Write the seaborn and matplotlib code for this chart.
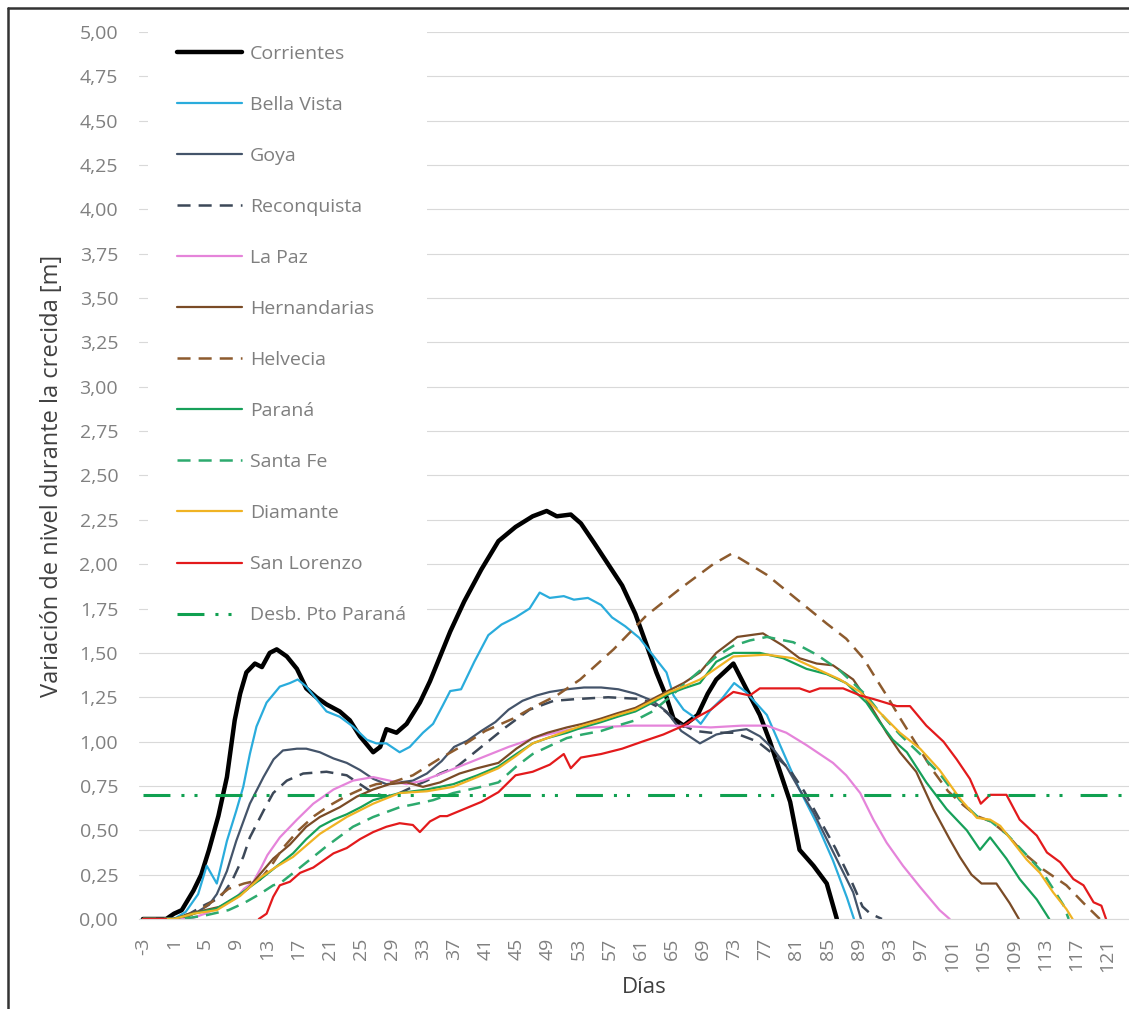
import matplotlib
matplotlib.use('Agg')
import matplotlib.pyplot as plt
import pandas as pd
import seaborn as sns
from matplotlib.patches import Rectangle
from matplotlib.lines import Line2D

# (día, variación de nivel [m])
corrientes = [(-3, 0), (0, 0), (1, 0.03), (2, 0.05), (3.5, 0.16), (4.5, 0.25), (5.5, 0.39), (6.7, 0.58),
              (7.8, 0.80), (8.8, 1.12), (9.5, 1.27), (10.3, 1.39), (11.4, 1.44), (12.3, 1.42), (13.3, 1.50),
              (14.2, 1.52), (15.5, 1.48), (16.8, 1.41), (18, 1.30), (19.3, 1.25), (20.6, 1.21), (22.3, 1.17),
              (23.6, 1.12), (24.9, 1.03), (26.6, 0.94), (27.5, 0.97), (28.3, 1.07), (29.6, 1.05), (30.9, 1.10),
              (32.6, 1.22), (33.9, 1.34), (35.2, 1.48), (36.5, 1.62), (38.3, 1.79), (40.5, 1.97), (42.7, 2.13),
              (44.9, 2.21), (47.1, 2.27), (48.9, 2.30), (50.2, 2.27), (52, 2.28), (53.3, 2.23), (55, 2.12),
              (56.8, 2.00), (58.6, 1.88), (60.3, 1.72), (61.7, 1.55), (63, 1.39), (64.3, 1.25), (65.2, 1.13),
              (66.5, 1.09), (68.3, 1.15), (69.6, 1.27), (70.7, 1.35), (72.9, 1.44), (75, 1.26), (76.3, 1.15),
              (77.6, 1.00), (78.9, 0.83), (80.2, 0.66), (81.4, 0.39), (83.2, 0.30), (84.9, 0.20), (86.2, 0.0)]

bella_vista = [(-3, 0), (1, 0), (2.5, 0.04), (4.1, 0.14), (5.2, 0.30), (6.5, 0.20), (7.8, 0.44), (9, 0.61),
               (9.9, 0.745), (10.75, 0.93), (11.6, 1.085), (12.9, 1.22), (14.6, 1.31), (15.9, 1.33), (16.9, 1.35),
               (18, 1.31), (19.3, 1.24), (20.6, 1.17), (22.3, 1.14), (24, 1.085), (25.8, 1.01), (27, 0.99),
               (28.3, 0.99), (30, 0.94), (31.3, 0.97), (33, 1.05), (34.3, 1.10), (35.5, 1.20), (36.5, 1.285),
               (37.9, 1.295), (39.6, 1.45), (41.4, 1.60), (43.1, 1.66), (44.9, 1.70), (46.7, 1.75), (48, 1.84),
               (49.3, 1.81), (51.1, 1.82), (52.4, 1.80), (54.2, 1.81), (55.9, 1.77), (57.3, 1.70), (59, 1.65),
               (60.8, 1.585), (62.5, 1.49), (64.3, 1.39), (65.2, 1.26), (66.5, 1.18), (67.8, 1.14), (68.7, 1.10),
               (70, 1.18), (71.4, 1.24), (73, 1.33), (74.5, 1.28), (77.2, 1.15), (79.3, 0.94), (81.4, 0.73),
               (83.6, 0.54), (85.7, 0.33), (87.5, 0.12), (88.4, 0.0)]

goya = [(-3, 0), (2, 0), (4, 0.04), (5.5, 0.08), (6.5, 0.14), (7.8, 0.27), (9, 0.44), (10.75, 0.65),
        (12.5, 0.80), (13.8, 0.90), (15, 0.95), (16.8, 0.96), (18, 0.96), (19.75, 0.94), (21.5, 0.905),
        (23.2, 0.88), (24.9, 0.84), (26.6, 0.79), (28.3, 0.76), (30, 0.77), (31.7, 0.78), (33.5, 0.82),
        (35.4, 0.89), (37, 0.97), (38.7, 1.005), (40.5, 1.06), (42.3, 1.11), (44, 1.18), (45.8, 1.23),
        (47.6, 1.26), (49.3, 1.28), (51.5, 1.295), (53.7, 1.305), (55.9, 1.305), (58.1, 1.295), (60.3, 1.27),
        (62.5, 1.23), (64.3, 1.17), (66.2, 1.06), (68.6, 0.99), (70.7, 1.04), (72.9, 1.06), (74.6, 1.07),
        (76.3, 1.03), (78, 0.96), (79.7, 0.86), (81.4, 0.73), (83.2, 0.60), (84.9, 0.45), (86.6, 0.30),
        (88.3, 0.15), (89.3, 0.0)]

reconquista = [(-3, 0), (1, 0), (3, 0.03), (5, 0.08), (6.9, 0.12), (8.4, 0.21), (9.9, 0.35), (10.75, 0.46),
               (12.5, 0.61), (13.75, 0.71), (15.5, 0.78), (17.6, 0.82), (20.6, 0.83), (23.2, 0.81), (24.9, 0.76),
               (26.6, 0.71), (28.3, 0.69), (30, 0.71), (31.7, 0.745), (33.5, 0.78), (35.2, 0.82), (37.4, 0.86),
               (40.5, 0.97), (43.6, 1.08), (46.7, 1.18), (49.8, 1.23), (52.8, 1.24), (56.8, 1.25), (61.2, 1.24),
               (63.9, 1.18), (66, 1.10), (68, 1.06), (70, 1.05), (73, 1.05), (76, 1.00), (78, 0.93), (80, 0.85),
               (82, 0.72), (84, 0.56), (86, 0.40), (88, 0.22), (89.5, 0.07), (90.5, 0.03), (92, 0.0)]

la_paz = [(-3, 0), (3, 0), (5, 0.03), (7, 0.07), (9, 0.12), (10, 0.17), (11.2, 0.21), (12.2, 0.29), (13, 0.36),
          (14.6, 0.46), (16.8, 0.56), (18.9, 0.65), (21.5, 0.73), (24, 0.78), (26.6, 0.80), (28.7, 0.78),
          (30.9, 0.76), (33, 0.78), (36, 0.83), (40, 0.90), (44, 0.97), (48, 1.03), (52, 1.07), (55, 1.08),
          (60, 1.09), (65, 1.09), (70, 1.08), (74, 1.09), (77.2, 1.09), (79.7, 1.05), (82.3, 0.98), (85.7, 0.88),
          (87.4, 0.81), (89.2, 0.71), (90.9, 0.56), (92.6, 0.43), (94.7, 0.30), (96.9, 0.18), (99.4, 0.05),
          (100.7, 0.0)]

hernandarias = [(-3, 0), (1, 0), (3, 0.03), (5, 0.05), (7, 0.07), (9, 0.12), (10.5, 0.17), (12, 0.25),
                (13.75, 0.34), (15.9, 0.42), (18, 0.52), (19.75, 0.575), (22.3, 0.63), (24.5, 0.69), (26.6, 0.73),
                (28.7, 0.76), (30.9, 0.77), (33, 0.745), (35.2, 0.77), (37.7, 0.82), (40, 0.85), (42.7, 0.88),
                (45, 0.96), (47.1, 1.02), (49, 1.05), (51.5, 1.08), (53.5, 1.10), (55.9, 1.13), (58, 1.16),
                (60.3, 1.19), (62.5, 1.24), (64.7, 1.29), (66.5, 1.33), (68.6, 1.39), (70.7, 1.50), (73.4, 1.59),
                (76.7, 1.61), (79.3, 1.54), (81.4, 1.47), (83.6, 1.44), (85.7, 1.43), (88.3, 1.35), (90, 1.24),
                (92.6, 1.05), (94.3, 0.94), (96.4, 0.83), (98.6, 0.62), (100.7, 0.45), (102, 0.35), (103.5, 0.25),
                (104.8, 0.20), (106.7, 0.20), (108.4, 0.09), (109.6, 0.0)]

helvecia = [(-3, 0), (2, 0), (4, 0.04), (6, 0.10), (8, 0.17), (10, 0.20), (12, 0.22), (13.5, 0.30), (15, 0.40),
            (17, 0.50), (19, 0.58), (21, 0.64), (23, 0.69), (25, 0.73), (27, 0.76), (29, 0.77), (31.7, 0.81),
            (35, 0.90), (38.2, 0.98), (41, 1.06), (44.6, 1.13), (47, 1.19), (50.2, 1.26), (53.2, 1.35),
            (57.5, 1.52), (61.7, 1.71), (66, 1.86), (70.3, 2.00), (72.7, 2.06), (77.2, 1.94), (81.4, 1.79),
            (84.9, 1.665), (87.4, 1.58), (89.6, 1.47), (91.3, 1.35), (92.6, 1.26), (94.5, 1.12), (96.5, 0.98),
            (98.5, 0.84), (100.5, 0.72), (102.5, 0.64), (104.2, 0.58), (106, 0.55), (108, 0.48), (110, 0.38),
            (112.7, 0.28), (115.7, 0.19), (117.9, 0.09), (120, 0.0)]

parana = [(-3, 0), (1, 0), (3.5, 0.03), (6.5, 0.06), (9.5, 0.14), (12, 0.22), (14, 0.29), (16.3, 0.37),
          (18, 0.45), (19.75, 0.52), (21.5, 0.56), (23.2, 0.59), (25, 0.63), (26.6, 0.67), (28.3, 0.69),
          (30, 0.71), (33.5, 0.73), (36.9, 0.76), (40, 0.81), (42.7, 0.86), (45, 0.93), (47.1, 0.99), (49, 1.02),
          (51.5, 1.05), (53.5, 1.08), (55.9, 1.11), (58, 1.14), (60.3, 1.17), (62.5, 1.22), (64.7, 1.27),
          (66.5, 1.30), (68.6, 1.33), (70.7, 1.45), (72.9, 1.50), (76.3, 1.50), (79.3, 1.47), (82.3, 1.41),
          (84.9, 1.38), (87.4, 1.33), (90, 1.22), (91.7, 1.11), (93.4, 1.01), (95.2, 0.94), (97.7, 0.77),
          (100.3, 0.62), (102.9, 0.50), (104.6, 0.39), (105.9, 0.46), (108, 0.34), (109.7, 0.225), (111.9, 0.11),
          (113.5, 0.0)]

santa_fe = [(-3, 0), (2, 0), (5, 0.02), (8, 0.05), (10, 0.09), (12, 0.14), (13.75, 0.19), (14.6, 0.20),
            (17.2, 0.29), (20.6, 0.41), (24, 0.52), (26.6, 0.575), (30, 0.63), (31.7, 0.645), (34.3, 0.67),
            (36.9, 0.71), (40, 0.74), (42.7, 0.77), (45, 0.86), (47.1, 0.93), (49.5, 0.98), (51.5, 1.02),
            (53.5, 1.04), (55.9, 1.06), (58, 1.09), (60.3, 1.12), (62.5, 1.17), (64.7, 1.25), (66.5, 1.32),
            (68.6, 1.40), (70.7, 1.48), (72.9, 1.54), (75, 1.57), (77.2, 1.59), (80.6, 1.56), (83.6, 1.49),
            (86.6, 1.40), (90, 1.26), (91.7, 1.165), (94.3, 1.04), (96.9, 0.93), (99.4, 0.82), (102, 0.67),
            (104.2, 0.58), (106, 0.55), (108, 0.48), (110.6, 0.36), (112.7, 0.26), (114, 0.17), (115.3, 0.08),
            (116, 0.0)]

diamante = [(-3, 0), (1, 0), (3.5, 0.03), (6.5, 0.05), (9.5, 0.13), (12, 0.23), (14, 0.29), (16.3, 0.35),
            (19.75, 0.48), (23.2, 0.575), (26.6, 0.65), (30, 0.71), (33.5, 0.72), (36.9, 0.745), (40, 0.80),
            (42.7, 0.85), (45, 0.92), (47.1, 0.99), (49, 1.02), (51.5, 1.06), (53.5, 1.09), (55.9, 1.12),
            (58, 1.15), (60.3, 1.18), (62.5, 1.23), (64.7, 1.28), (66.5, 1.31), (68.6, 1.35), (72.9, 1.48),
            (77.2, 1.49), (80.6, 1.47), (83.6, 1.41), (86.6, 1.35), (89.2, 1.28), (91.7, 1.165), (94.3, 1.05),
            (96.9, 0.96), (99.4, 0.84), (102, 0.68), (104.2, 0.57), (105.9, 0.56), (107.2, 0.525), (108.9, 0.43),
            (110.6, 0.335), (112.3, 0.26), (114, 0.15), (115.7, 0.056), (116.5, 0.0)]

san_lorenzo_inicio = [(-3, 0), (0, 0)]
san_lorenzo = [(11.9, 0), (12.9, 0.03), (13.75, 0.125), (14.6, 0.19), (15.9, 0.21), (17.2, 0.26), (18.9, 0.29),
               (20.2, 0.33), (21.5, 0.37), (23.2, 0.40), (24.9, 0.45), (26.6, 0.49), (28.3, 0.52), (30, 0.54),
               (31.7, 0.53), (32.6, 0.49), (33.9, 0.55), (35.2, 0.58), (36.1, 0.58), (38.3, 0.62), (40.5, 0.66),
               (42.7, 0.715), (44.9, 0.81), (47.1, 0.83), (49.3, 0.87), (51.1, 0.93), (52, 0.85), (53.3, 0.91),
               (55.9, 0.93), (58.6, 0.96), (61.2, 1.00), (63.9, 1.04), (66.5, 1.09), (68.3, 1.14), (70, 1.18),
               (71.8, 1.245), (72.9, 1.28), (75, 1.26), (76.3, 1.30), (81.4, 1.30), (82.7, 1.28), (84, 1.30),
               (87, 1.30), (89.2, 1.26), (90.9, 1.24), (93.9, 1.20), (95.6, 1.20), (97.7, 1.09), (99.9, 1.00),
               (101.6, 0.90), (103.3, 0.79), (104.7, 0.65), (105.9, 0.70), (108, 0.70), (109.7, 0.56),
               (111.9, 0.47), (113.2, 0.375), (114.9, 0.32), (116.6, 0.225), (117.9, 0.19), (119.2, 0.094),
               (120.2, 0.075), (120.8, 0.0)]

desborde = [(-3, 0.70), (123, 0.70)]

x_label_days = list(range(-3, 122, 4))
y_ticks = [i * 0.25 for i in range(21)]

dash = (0, (9.4, 5.8))
series = [
    ('Corrientes', corrientes, '#000000', 3.2, '-'),
    ('Bella Vista', bella_vista, '#2AACDC', 1.6, '-'),
    ('Goya', goya, '#44546A', 1.6, '-'),
    ('Reconquista', reconquista, '#3C4858', 1.8, dash),
    ('La Paz', la_paz, '#E584DA', 1.6, '-'),
    ('Hernandarias', hernandarias, '#7A4B26', 1.6, '-'),
    ('Helvecia', helvecia, '#8D5B2E', 1.8, dash),
    ('Paraná', parana, '#17A05A', 1.6, '-'),
    ('Santa Fe', santa_fe, '#2DAA6E', 1.8, dash),
    ('Diamante', diamante, '#F0B323', 1.6, '-'),
    ('San Lorenzo', san_lorenzo, '#E31A1C', 1.6, '-'),
    ('Desb. Pto Paraná', desborde, '#10A050', 2.2, (0, (19.4, 7.9, 2.2, 7.2, 2.2, 13))),
]

sns.set_style('white')
plt.rcParams['font.family'] = ['Open Sans', 'DejaVu Sans']
plt.rcParams['lines.scale_dashes'] = False

fig = plt.figure(figsize=(11.29, 10.09), dpi=100)
ax = fig.add_axes([0.12312, 0.08920, 0.87688, 0.87909])

for name, pts, color, lw, ls in series:
    df = pd.DataFrame(pts, columns=['dia', 'nivel'])
    if name == 'San Lorenzo':
        df0 = pd.DataFrame(san_lorenzo_inicio, columns=['dia', 'nivel'])
        sns.lineplot(data=df0, x='dia', y='nivel', color=color, lw=lw, ax=ax, estimator=None, sort=False)
    sns.lineplot(data=df, x='dia', y='nivel', color=color, lw=lw, linestyle=ls, label=name,
                 ax=ax, estimator=None, sort=False)

ax.set_xlim(-3.5, 123.75)
ax.set_ylim(0, 5)
ax.set_axisbelow(True)
ax.grid(axis='y', color='#D9D9D9', lw=0.8)
ax.grid(axis='x', visible=False)
for s in ['top', 'right', 'left']:
    ax.spines[s].set_visible(False)
ax.spines['bottom'].set_color('#D9D9D9')
ax.spines['bottom'].set_linewidth(0.8)

ax.set_yticks(y_ticks)
ax.set_yticklabels([f'{v:.2f}'.replace('.', ',') for v in y_ticks])
ax.tick_params(axis='y', length=0, pad=15, labelsize=14, labelcolor='#808080')

ax.set_xticks(x_label_days)
ax.set_xticklabels([str(d) for d in x_label_days], rotation=90)
ax.set_xticks([d - 0.5 for d in range(-3, 125)], minor=True)
ax.tick_params(axis='x', which='major', length=0, pad=13.7, labelsize=14, labelcolor='#808080')
ax.tick_params(axis='x', which='minor', length=4.3, width=0.8, color='#D0D0D0', direction='out')

ax.set_xlabel('Días', fontsize=16, color='#404040')
ax.xaxis.set_label_coords(0.510, -0.0654)
ax.set_ylabel('Variación de nivel durante la crecida [m]', fontsize=17, color='#404040')
ax.yaxis.set_label_coords(-0.0753, 0.5)

# fondo blanco de la leyenda (tapa la grilla)
ax.add_patch(Rectangle((0.0091, 0.3145), 0.2818, 0.70, transform=ax.transAxes,
                       facecolor='white', edgecolor='none', zorder=1, clip_on=False))

handles, labels = ax.get_legend_handles_labels()
ax.legend(handles, labels, loc='upper left', bbox_to_anchor=(0.0384, 0.9856), frameon=False,
          borderpad=0, borderaxespad=0, handlelength=3.34, handletextpad=0.41, labelspacing=1.70,
          fontsize=14, labelcolor='#7F7F7F')

# marco del gráfico
fig.add_artist(Line2D([0.007, 0.007], [0.0, 0.992], color='#333333', lw=1.8, transform=fig.transFigure))
fig.add_artist(Line2D([0.007, 1.0], [0.992, 0.992], color='#333333', lw=1.8, transform=fig.transFigure))

fig.savefig('out.png', dpi=100)
